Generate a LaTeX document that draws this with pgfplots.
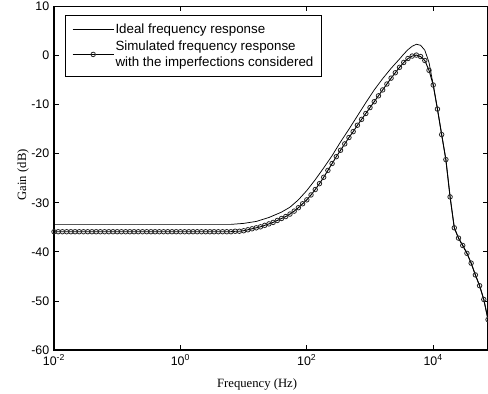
\documentclass[border=0pt]{standalone}
\usepackage{fontspec}
\setmainfont{Liberation Sans}
\newfontfamily\timesfont{Liberation Serif}
\usepackage{pgfplots}
\pgfplotsset{compat=1.18}

\begin{document}
\begin{tikzpicture}
\begin{axis}[
  scale only axis,
  width=325.5pt, height=257.625pt,
  xmode=log,
  xmin=0.01, xmax=73564,
  ymin=-60, ymax=10,
  xtick={0.01,1,100,10000},
  xticklabels={10\textsuperscript{-2},10\textsuperscript{0},10\textsuperscript{2},10\textsuperscript{4}},
  ytick={-60,-50,-40,-30,-20,-10,0,10},
  yticklabels={-60,-50,-40,-30,-20,-10,0,10},
  xminorticks=false, yminorticks=false,
  tick align=inside,
  major tick length=3.75pt,
  tick style={black, line width=0.6pt},
  axis line style={line width=1pt},
  ticklabel style={font=\fontsize{9.3}{11}\selectfont},
  every axis x label/.style={at={(axis description cs:0.468,-0.11)},anchor=base},
  every axis y label/.style={at={(axis description cs:-0.0714,0.51)},rotate=90,anchor=center},
  xlabel={\timesfont\fontsize{9.5}{11}\selectfont Frequency (Hz)},
  ylabel={\timesfont\fontsize{9.5}{11}\selectfont Gain (dB)},
  legend style={at={(axis description cs:0.0253,0.975)}, anchor=north west,
    draw=black, line width=0.8pt, fill=white,
    font=\fontsize{10}{12}\selectfont,
    nodes={align=left, inner xsep=1pt, inner ysep=1.5pt},
    row sep=1pt, inner xsep=5pt, inner ysep=4.5pt},
  legend cell align=left,
  legend image code/.code={\draw[mark repeat=2,mark phase=2,#1] plot coordinates {(0pt,0pt) (15.4pt,0pt) (30.8pt,0pt)};},
]
% Ideal frequency response
\addplot[black, line width=0.55pt, mark=none] coordinates {
(0.01,-34.4) (6.3096,-34.4) (10,-34.2) (15.849,-33.8) (25.119,-33.0) (39.811,-31.9)
(54.117,-30.9) (73.564,-29.4) (100,-27.5) (135.94,-25.3) (184.78,-22.9) (251.19,-20.4)
(341.45,-17.6) (464.16,-15.0) (630.96,-12.3) (857.70,-9.6) (1165.9,-7.0) (1584.9,-4.7)
(2154.4,-2.6) (2928.6,-0.7) (3414.5,0.3) (3981.1,1.2) (4641.6,1.9) (5411.7,2.3)
(6309.6,2.1) (7356.4,1.1) (8577.0,-1.4) (10000,-6.0) (11659,-10.9) (13594,-16.1)
(15849,-21.2) (18478,-28.8) (21544,-35.1) (25119,-37.2) (29286,-38.7) (34145,-40.3)
(39811,-42.3) (46416,-44.7) (54117,-46.9) (63096,-49.7) (73564,-53.8)
};
\addlegendentry{Ideal frequency response}
% Simulated frequency response
\addplot[black, line width=0.7pt, mark=o, mark size=1.7pt,
  mark options={draw=black!85, line width=0.6pt}] coordinates {
(0.01,-35.9) (0.011659,-35.9) (0.013594,-35.9) (0.015849,-35.9) (0.018478,-35.9)
(0.021544,-35.9) (0.025119,-35.9) (0.029286,-35.9) (0.034145,-35.9) (0.039811,-35.9)
(0.046416,-35.9) (0.054117,-35.9) (0.063096,-35.9) (0.073564,-35.9) (0.085770,-35.9)
(0.1,-35.9) (0.11659,-35.9) (0.13594,-35.9) (0.15849,-35.9) (0.18478,-35.9)
(0.21544,-35.9) (0.25119,-35.9) (0.29286,-35.9) (0.34145,-35.9) (0.39811,-35.9)
(0.46416,-35.9) (0.54117,-35.9) (0.63096,-35.9) (0.73564,-35.9) (0.85770,-35.9)
(1,-35.9) (1.1659,-35.9) (1.3594,-35.9) (1.5849,-35.9) (1.8478,-35.9)
(2.1544,-35.9) (2.5119,-35.9) (2.9286,-35.9) (3.4145,-35.9) (3.9811,-35.9)
(4.6416,-35.9) (5.4117,-35.9) (6.3096,-35.9) (7.3564,-35.8) (8.5770,-35.8)
(10,-35.7) (11.659,-35.5) (13.594,-35.3) (15.849,-35.1) (18.478,-34.9)
(21.544,-34.6) (25.119,-34.3) (29.286,-34.0) (34.145,-33.6) (39.811,-33.2)
(46.416,-32.8) (54.117,-32.3) (63.096,-31.7) (73.564,-31.0) (85.770,-30.2)
(100,-29.4) (116.59,-28.4) (135.94,-27.3) (158.49,-26.1) (184.78,-24.8)
(215.44,-23.4) (251.19,-22.0) (292.86,-20.6) (341.45,-19.3) (398.11,-18.0)
(464.16,-16.7) (541.17,-15.5) (630.96,-14.2) (735.64,-13.0) (857.70,-11.8)
(1000,-10.6) (1165.9,-9.4) (1359.4,-8.2) (1584.9,-7.0) (1847.8,-5.8)
(2154.4,-4.6) (2511.9,-3.5) (2928.6,-2.4) (3414.5,-1.4) (3981.1,-0.6)
(4641.6,-0.1) (5411.7,0.1) (6309.6,-0.2) (7356.4,-1.0) (8577.0,-3.0)
(10000,-6.0) (11659,-10.9) (13594,-16.1) (15849,-21.2) (18478,-28.8)
(21544,-35.1) (25119,-37.2) (29286,-38.7) (34145,-40.3) (39811,-42.3)
(46416,-44.7) (54117,-46.9) (63096,-49.7) (73564,-53.8)
};
\addlegendentry{Simulated frequency response\\with the imperfections considered}
\end{axis}
\pgfresetboundingbox
\path[use as bounding box] ([shift={(-40.5pt,-33pt)}]current axis.south west) rectangle ([shift={(0pt,4.875pt)}]current axis.north east);
\end{tikzpicture}
\end{document}
